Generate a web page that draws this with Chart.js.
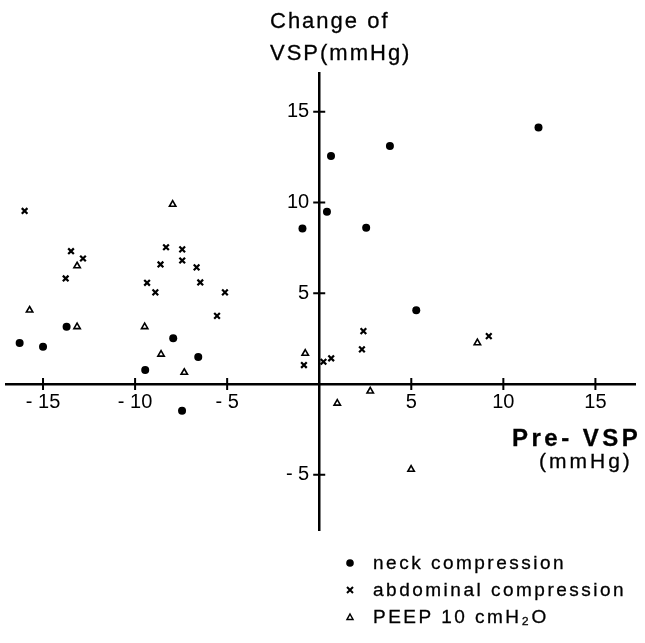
<!DOCTYPE html>
<html>
<head>
<meta charset="utf-8">
<script src="https://cdn.jsdelivr.net/npm/chart.js@4.4.1/dist/chart.umd.min.js"></script>
<style>
    body { margin: 0; background: #fff; font-family: 'Liberation Sans', Arial, sans-serif; color: #000; }
    #wrap { position: relative; width: 645px; height: 643px; }
    #chart { position: absolute; left: 0; top: 0; }
    .txt { position: absolute; white-space: nowrap; line-height: 1; -webkit-text-stroke: 0.3px #000; }
    .ytitle { left: 270px; font-size: 22px; letter-spacing: 2px; }
    .xtitle { left: 512px; top: 426px; font-size: 24px; font-weight: bold; letter-spacing: 3.5px; }
    .xunit { left: 539px; top: 450px; font-size: 21px; letter-spacing: 3px; }
    .legend-row { position: absolute; left: 343px; height: 20px; display: flex; align-items: center; font-size: 19px; letter-spacing: 2.5px; -webkit-text-stroke: 0.3px #000; }
    .legend-row svg { width: 14px; height: 14px; margin-right: 16px; }
</style>
</head>
<body>
<div id="wrap">
    <canvas id="chart" width="645" height="643"></canvas>
    <div class="txt ytitle" style="top: 10px;">Change of</div>
    <div class="txt ytitle" style="top: 42px;">VSP(mmHg)</div>
    <div class="txt xtitle">Pre- VSP</div>
    <div class="txt xunit">(mmHg)</div>
    <div id="legend"></div>
</div>
<script>
// values: pre-VSP (x) and change of VSP (y), mmHg
const neckPre = [-16.27, -15.0, -13.72, -9.45, -7.93, -6.57, -7.45, -0.91, 0.42, 0.64, 2.55, 3.84, 5.27, 11.91];
const neckChange = [2.27, 2.05, 3.16, 0.77, 2.52, 1.49, -1.47, 8.57, 9.49, 12.56, 8.61, 13.12, 4.07, 14.14];

const abdPre = [-16.0, -13.48, -12.83, -13.77, -8.32, -7.44, -7.44, -8.62, -6.66, -9.35, -6.46, -8.9, -5.12, -5.55, -0.83, 0.23, 0.65, 2.4, 2.32, 9.21];
const abdChange = [9.54, 7.32, 6.92, 5.82, 7.54, 7.42, 6.81, 6.59, 6.43, 5.58, 5.6, 5.05, 5.05, 3.76, 1.05, 1.23, 1.42, 2.92, 1.91, 2.64];

const peepPre = [-7.96, -13.15, -15.73, -13.15, -9.48, -8.59, -7.33, -0.76, 0.98, 2.77, 8.59, 4.99];
const peepChange = [9.9, 6.51, 4.07, 3.16, 3.16, 1.64, 0.64, 1.69, -1.06, -0.39, 2.27, -4.7];

const seriesNames = ['neck compression', 'abdominal compression', 'PEEP 10 cmH\u2082O'];

const xTickValues = [-15, -10, -5, 5, 10, 15];
const yTickValues = [-5, 5, 10, 15];

function toPoints(xs, ys) {
    return xs.map((x, i) => ({ x: x, y: ys[i] }));
}

function tickText(v) {
    return v < 0 ? '- ' + Math.abs(v) : String(v);
}

// little cross ticks through both axes
const crossTicks = {
    id: 'crossTicks',
    afterDraw(chart) {
        const ctx = chart.ctx;
        const xs = chart.scales.x;
        const ys = chart.scales.y;
        const x0 = xs.getPixelForValue(0);
        const y0 = ys.getPixelForValue(0);
        ctx.save();
        ctx.strokeStyle = '#000';
        ctx.lineWidth = 2;
        ctx.beginPath();
        xTickValues.forEach(v => {
            const px = xs.getPixelForValue(v);
            ctx.moveTo(px, y0 - 6);
            ctx.lineTo(px, y0 + 6);
        });
        yTickValues.forEach(v => {
            const py = ys.getPixelForValue(v);
            ctx.moveTo(x0 - 6, py);
            ctx.lineTo(x0 + 6, py);
        });
        ctx.stroke();
        ctx.restore();
    }
};

const tickFont = { family: 'Liberation Sans', size: 20 };

new Chart(document.getElementById('chart'), {
    type: 'scatter',
    data: {
        datasets: [
            {
                label: seriesNames[0],
                data: toPoints(neckPre, neckChange),
                pointStyle: 'circle',
                pointRadius: 4,
                backgroundColor: '#000',
                borderColor: '#000',
                borderWidth: 0
            },
            {
                label: seriesNames[1],
                data: toPoints(abdPre, abdChange),
                pointStyle: 'crossRot',
                pointRadius: 4,
                borderColor: '#000',
                borderWidth: 2.2
            },
            {
                label: seriesNames[2],
                data: toPoints(peepPre, peepChange),
                pointStyle: 'triangle',
                pointRadius: 3.7,
                backgroundColor: '#fff',
                borderColor: '#000',
                borderWidth: 1.6
            }
        ]
    },
    options: {
        responsive: false,
        animation: false,
        devicePixelRatio: 1,
        layout: { padding: { left: 6, right: 10, top: 73, bottom: 113 } },
        plugins: {
            legend: { display: false },
            tooltip: { enabled: false }
        },
        scales: {
            x: {
                type: 'linear',
                position: { y: 0 },
                min: -17,
                max: 17.15,
                afterBuildTicks: s => { s.ticks = xTickValues.map(v => ({ value: v })); },
                border: { color: '#000', width: 2.5 },
                grid: { display: true, drawOnChartArea: false, drawTicks: false },
                ticks: { color: '#000', font: tickFont, padding: 6, maxRotation: 0, autoSkip: false, callback: v => tickText(v) }
            },
            y: {
                type: 'linear',
                position: { x: 0 },
                min: -8.04,
                max: 17.14,
                afterBuildTicks: s => { s.ticks = yTickValues.map(v => ({ value: v })); },
                border: { color: '#000', width: 2.5 },
                grid: { display: true, drawOnChartArea: false, drawTicks: false },
                ticks: { color: '#000', font: tickFont, autoSkip: false, callback: v => tickText(v) + '\u2002' }
            }
        }
    },
    plugins: [crossTicks]
});

// legend, stacked under the plot like the original
const legendEl = document.getElementById('legend');
const markers = [
    '<svg viewBox="0 0 14 14"><circle cx="7" cy="7" r="3.8" fill="#000"/></svg>',
    '<svg viewBox="0 0 14 14"><path d="M4 4L10 10M10 4L4 10" stroke="#000" stroke-width="2"/></svg>',
    '<svg viewBox="0 0 14 14"><path d="M7 4L10 9.5H4Z" fill="#fff" stroke="#000" stroke-width="1.5"/></svg>'
];
const legendTops = [553, 580, 607];
seriesNames.forEach((name, i) => {
    const row = document.createElement('div');
    row.className = 'legend-row';
    row.style.top = legendTops[i] + 'px';
    row.innerHTML = markers[i] + '<span>' + name + '</span>';
    legendEl.appendChild(row);
});
</script>
</body>
</html>
